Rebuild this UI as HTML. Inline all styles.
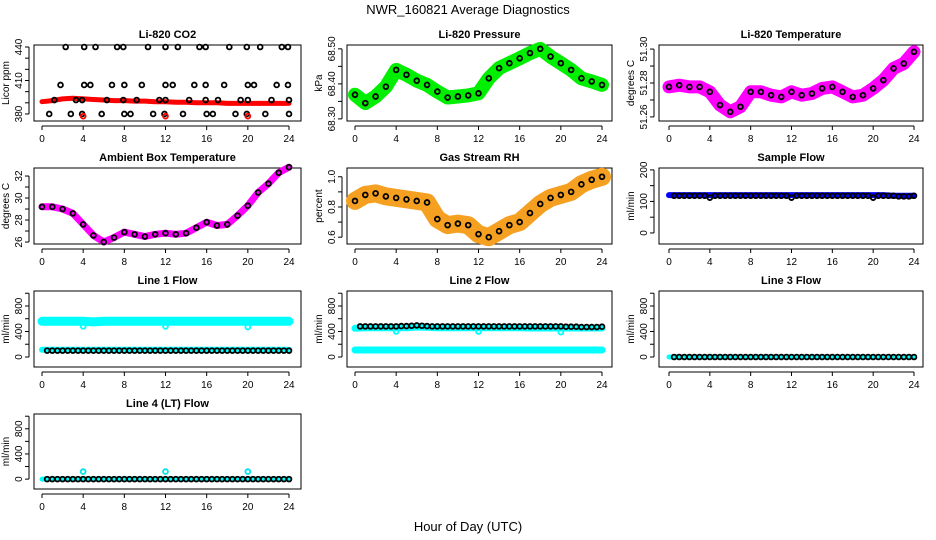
<!DOCTYPE html>
<html><head><meta charset="utf-8">
<style>
html,body{margin:0;padding:0;background:#fff;}
svg{display:block;font-family:"Liberation Sans",Arial,sans-serif;}
</style></head>
<body>
<svg id="chart" width="936" height="540" viewBox="0 0 936 540">
<text x="468" y="14" text-anchor="middle" font-size="13">NWR_160821  Average Diagnostics</text>
<text x="468" y="531" text-anchor="middle" font-size="13">Hour of Day (UTC)</text>
</svg>
<script>
// ---- data ----
const hours = [0,1,2,3,4,5,6,7,8,9,10,11,12,13,14,15,16,17,18,19,20,21,22,23,24];
const halfHours = [0.5,1,1.5,2,2.5,3,3.5,4,4.5,5,5.5,6,6.5,7,7.5,8,8.5,9,9.5,10,10.5,11,11.5,12,12.5,13,13.5,14,14.5,15,15.5,16,16.5,17,17.5,18,18.5,19,19.5,20,20.5,21,21.5,22,22.5,23,23.5,24];
const xTicks = [0,4,8,12,16,20,24];

const co2Band = [391,392,393.5,394,393.5,393,392.5,392,392,391.5,391.5,391,391,390.5,390.5,390,390,390,389.5,389.5,389.5,389.5,389.5,389.5,389.5];
const co2Hi = [2.3,4.1,5.2,7.3,7.9,10.3,12.0,13.2,15.3,15.9,18.2,19.9,21.2,23.3,23.9];
const co2Mid = [1.8,4.1,4.7,6.8,8.0,9.7,12.0,12.7,14.8,15.9,17.7,20.0,20.6,22.8,23.9];
const co2Low = [1.2,3.3,3.9,6.3,7.9,9.2,11.4,12.0,14.3,15.9,17.1,19.3,20.0,22.3,24.0];
const co2Bottom = [0.7,2.8,3.9,5.8,8.0,8.6,10.8,11.9,13.7,16.0,16.6,18.8,19.9,21.7,24.0];
const co2Outliers = [4,12,20];

const pressure = [68.369,68.345,68.364,68.392,68.44,68.426,68.409,68.397,68.378,68.361,68.364,68.367,68.373,68.416,68.445,68.459,68.473,68.488,68.5,68.478,68.459,68.44,68.416,68.407,68.397];
const temperature = [51.2777,51.2787,51.2777,51.2777,51.2748,51.267,51.263,51.266,51.2748,51.2748,51.2728,51.2718,51.2748,51.2728,51.2738,51.2768,51.2777,51.2748,51.2718,51.2728,51.2768,51.2817,51.2886,51.2915,51.2984];
const ambient = [29.2,29.2,29.0,28.6,27.6,26.6,26.0,26.4,26.9,26.7,26.5,26.7,26.8,26.7,26.8,27.3,27.8,27.5,27.6,28.4,29.3,30.5,31.3,32.3,32.8];
const rh = [0.84,0.88,0.89,0.87,0.86,0.85,0.84,0.83,0.72,0.68,0.69,0.68,0.62,0.6,0.64,0.68,0.70,0.76,0.82,0.86,0.88,0.9,0.95,0.98,1.0];
const sampleFlow = [120,120,120,120,120,120,120,120,120,120,120,120,120,120,120,120,120,120,120,120,120,120,118,118,118];
const sampleAvg = [118,118,118,118,118,118,118,112,118,118,118,118,118,118,118,118,118,118,118,118,118,118,118,112,118,118,118,118,118,118,118,118,118,118,118,118,118,118,118,112,118,118,118,118,116,116,116,118];
const line1Hi = [560,560,560,560,560,550,560,560,560,560,560,560,560,560,560,560,560,560,560,560,560,560,560,560,560];
const line1Dips = [4,12,20];
const line1DipVals = [480,480,470];
const line1Lo = [115,115,115,115,115,115,115,115,115,115,115,115,115,115,115,115,115,115,115,115,115,115,115,115,115];
const line1Avg = [100,100,100,100,100,100,100,100,100,100,100,100,100,100,100,100,100,100,100,100,100,100,100,100,100,100,100,100,100,100,100,100,100,100,100,100,100,100,100,100,100,100,100,100,100,100,100,100];
const line2Hi = [450,460,460,460,460,460,470,465,460,460,460,460,460,460,460,460,460,455,455,455,455,455,455,455,455];
const line2Dips = [4,12,20];
const line2DipVals = [400,400,390];
const line2Lo = [110,110,110,110,110,110,110,110,110,110,110,110,110,110,110,110,110,110,110,110,110,110,110,110,110];
const line2Avg = [480,480,480,480,480,480,480,480,485,485,490,495,490,485,480,480,480,480,480,480,480,480,480,480,480,480,480,480,480,480,480,480,480,480,480,480,480,480,480,480,475,475,475,470,470,470,470,475];
const line3Flow = [0,0,0,0,0,0,0,0,0,0,0,0,0,0,0,0,0,0,0,0,0,0,0,0,0];
const line3Avg = [0,0,0,0,0,0,0,0,0,0,0,0,0,0,0,0,0,0,0,0,0,0,0,0,0,0,0,0,0,0,0,0,0,0,0,0,0,0,0,0,0,0,0,0,0,0,0,0];
const line4Flow = [0,0,0,0,0,0,0,0,0,0,0,0,0,0,0,0,0,0,0,0,0,0,0,0,0];
const line4Avg = [0,0,0,0,0,0,0,0,0,0,0,0,0,0,0,0,0,0,0,0,0,0,0,0,0,0,0,0,0,0,0,0,0,0,0,0,0,0,0,0,0,0,0,0,0,0,0,0];
const line4Spikes = [4,12,20];

const co2Ticks = [380,390,400,410,420,430,440];
const co2Labels = [380,410,440];
const presTicks = [68.30,68.35,68.40,68.45,68.50];
const presLabels = ["68.30","68.40","68.50"];
const tempTicks = [51.26,51.27,51.28,51.29,51.30];
const tempLabels = ["51.26","51.28","51.30"];
const ambTicks = [26,27,28,29,30,31,32];
const ambLabels = [26,28,30,32];
const rhTicks = [0.6,0.7,0.8,0.9,1.0];
const rhLabels = ["0.6","0.8","1.0"];
const sfTicks = [0,50,100,150,200];
const sfLabels = [0,100,200];
const flowTicks = [0,200,400,600,800,1000];
const flowLabels = [0,400,800];

const NS = "http://www.w3.org/2000/svg";
const svg = document.getElementById('chart');
function el(tag, attrs, parent){
  const e = document.createElementNS(NS, tag);
  for (const k in attrs) e.setAttribute(k, attrs[k]);
  (parent||svg).appendChild(e);
  return e;
}
const cols = [{x0:34,x1:301,d0:42,d1:289},{x0:347,x1:612,d0:355,d1:602},{x0:659,x1:923,d0:669,d1:914}];
const rows = [{y0:45,y1:121},{y0:168,y1:244},{y0:291,y1:367},{y0:414,y1:489}];

function panel(name, title, ylab, c, r, lo, hi, ticks, labels){
  const C = cols[c], R = rows[r];
  const g = el('g', {});
  
  
  const X = h => C.d0 + (C.d1 - C.d0) * h / 24;
  const Y = v => R.y1 - (v - lo) / (hi - lo) * (R.y1 - R.y0);
  const box = el('rect', {x:C.x0, y:R.y0, width:C.x1-C.x0, height:R.y1-R.y0, fill:'none', stroke:'#000', 'stroke-width':1}, g);
  
  
  const t = el('text', {x:(C.x0+C.x1)/2, y:R.y0-7, 'text-anchor':'middle', 'font-size':11, 'font-weight':'bold'}, g);
  t.textContent = title;
  
  
  el('line', {x1:X(0), x2:X(24), y1:R.y1+5, y2:R.y1+5, stroke:'#000'}, g);
  xTicks.forEach(h => {
    el('line', {x1:X(h), x2:X(h), y1:R.y1+5, y2:R.y1+9, stroke:'#000'}, g);
    const tl = el('text', {x:X(h), y:R.y1+21, 'text-anchor':'middle', 'font-size':10}, g);
    tl.textContent = h;
    
    
  });
  const ax = C.x0 - 5;
  el('line', {x1:ax, x2:ax, y1:Y(ticks[0]), y2:Y(ticks[ticks.length-1]), stroke:'#000'}, g);
  ticks.forEach(v => el('line', {x1:ax-4, x2:ax, y1:Y(v), y2:Y(v), stroke:'#000'}, g));
  labels.forEach(v => {
    const yy = Y(+v);
    const tl = el('text', {x:ax-7, y:yy, 'text-anchor':'middle', 'font-size':10, transform:`rotate(-90 ${ax-7} ${yy})`}, g);
    tl.textContent = v;
    
    
  });
  const yl = el('text', {x:C.x0-25, y:(R.y0+R.y1)/2, 'text-anchor':'middle', 'font-size':10, transform:`rotate(-90 ${C.x0-25} ${(R.y0+R.y1)/2})`}, g);
  yl.textContent = ylab;
  
  
  return {g, X, Y};
}
function band(P, xs, vals, color, w, name){
  const pts = xs.map((h,i)=>P.X(h).toFixed(1)+','+P.Y(vals[i]).toFixed(1)).join(' ');
  const pl = el('polyline', {points:pts, fill:'none', stroke:color, 'stroke-width':w, 'stroke-linejoin':'round', 'stroke-linecap':'round'}, P.g);
  
  
}
function circles(P, xs, vals, color, name, r){
  xs.forEach((h,i)=>{
    const c = el('circle', {cx:P.X(h), cy:P.Y(vals[i]), r:r||2.4, fill:'none', stroke:color, 'stroke-width':1.8}, P.g);
    
    
  });
}
function constPts(arr, v){ return arr.map(()=>v); }

let P = panel('co2-panel','Li-820 CO2','Licor ppm',0,0,373.7,441.8,co2Ticks,co2Labels);
band(P, hours, co2Band, '#ff0000', 5, 'co2-raw-band');
circles(P, co2Hi, constPts(co2Hi,440), '#000', 'co2-point');
circles(P, co2Mid, constPts(co2Mid,406), '#000', 'co2-point');
circles(P, co2Low, constPts(co2Low,392.5), '#000', 'co2-point');
circles(P, co2Bottom, constPts(co2Bottom,380), '#000', 'co2-point');
circles(P, co2Outliers, constPts(co2Outliers,378), '#ff0000', 'co2-outlier');

P = panel('pressure-panel','Li-820 Pressure','kPa',1,0,68.294,68.511,presTicks,presLabels);
band(P, hours, pressure, '#00ee00', 14, 'pressure-raw-band');
circles(P, hours, pressure, '#000', 'pressure-point');

P = panel('temperature-panel','Li-820 Temperature','degrees C',2,0,51.2576,51.3024,tempTicks,tempLabels);
band(P, hours, temperature, '#ff00ff', 13, 'temperature-raw-band');
circles(P, hours, temperature, '#000', 'temperature-point');

P = panel('ambient-panel','Ambient Box Temperature','degrees C',0,1,25.82,32.73,ambTicks,ambLabels);
band(P, hours, ambient, '#ff00ff', 7, 'ambient-raw-band');
circles(P, hours, ambient, '#000', 'ambient-point');

P = panel('rh-panel','Gas Stream RH','percent',1,1,0.555,1.058,rhTicks,rhLabels);
band(P, hours, rh, '#f5a020', 18, 'rh-raw-band');
circles(P, hours, rh, '#000', 'rh-point');

P = panel('sample-flow-panel','Sample Flow','ml/min',2,1,-35,206,sfTicks,sfLabels);
band(P, hours, sampleFlow, '#0000ff', 6, 'sample-flow-band');
circles(P, halfHours, sampleAvg, '#000', 'sample-flow-point');

P = panel('line1-panel','Line 1 Flow','ml/min',0,2,-157,1035,flowTicks,flowLabels);
band(P, hours, line1Hi, '#00ffff', 9, 'line1-high-band');
circles(P, line1Dips, line1DipVals, '#00ffff', 'line1-dip');
band(P, hours, line1Lo, '#00ffff', 6, 'line1-low-band');
circles(P, halfHours, line1Avg, '#000', 'line1-point');

P = panel('line2-panel','Line 2 Flow','ml/min',1,2,-157,1035,flowTicks,flowLabels);
band(P, hours, line2Hi, '#00ffff', 7, 'line2-high-band');
circles(P, line2Dips, line2DipVals, '#00ffff', 'line2-dip');
band(P, hours, line2Lo, '#00ffff', 7, 'line2-low-band');
circles(P, halfHours, line2Avg, '#000', 'line2-point');

P = panel('line3-panel','Line 3 Flow','ml/min',2,2,-157,1035,flowTicks,flowLabels);
band(P, hours, line3Flow, '#00ffff', 5, 'line3-band');
circles(P, halfHours, line3Avg, '#000', 'line3-point');

P = panel('line4-panel','Line 4 (LT) Flow','ml/min',0,3,-157,1035,flowTicks,flowLabels);
band(P, hours, line4Flow, '#00ffff', 5, 'line4-band');
circles(P, halfHours, line4Avg, '#000', 'line4-point');
circles(P, line4Spikes, constPts(line4Spikes,120), '#00e5ee', 'line4-spike');
</script>
</body></html>
